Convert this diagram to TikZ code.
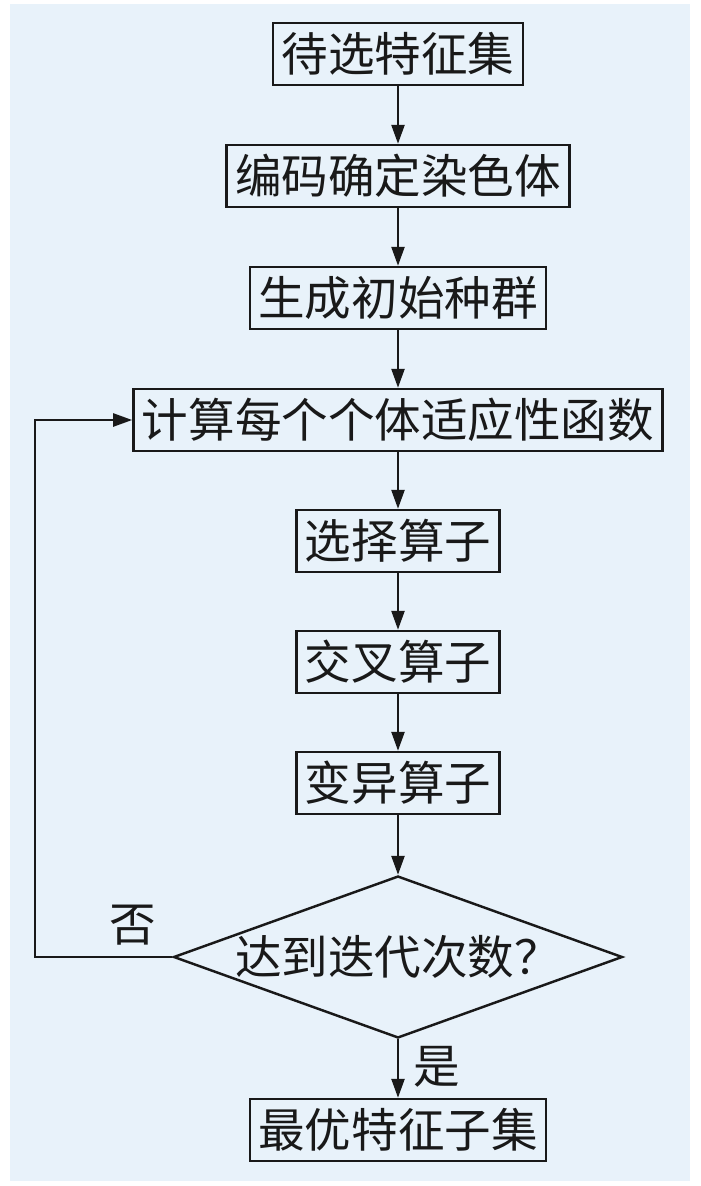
\documentclass[tikz,border=0pt]{standalone}
\usepackage{fontspec}
\newfontfamily\cjk{Noto Sans CJK SC}
\usepackage{tikz}
\usetikzlibrary{arrows.meta, shapes.geometric}
\definecolor{panel}{RGB}{232,242,250}
\definecolor{ink}{RGB}{25,25,25}
\begin{document}
\begin{tikzpicture}[x=0.02cm, y=-0.02cm,
        every node/.style={font=\cjk\fontsize{26.5}{30}\selectfont, text=ink},
        stepbox/.style={draw=ink, line width=1.4pt, minimum height=1.24cm, inner xsep=0.17cm, inner ysep=0pt},
        choice/.style={draw=ink, line width=1.4pt, diamond, aspect=2.77, minimum width=8.98cm, minimum height=3.24cm, inner sep=0pt},
        flow/.style={draw=ink, line width=1.4pt, -{Triangle[length=0.38cm, width=0.26cm]}}]
    \useasboundingbox (0,0) rectangle (700,1186);
    \fill[white] (0,0) rectangle (700,1186);
    \fill[panel] (10,4) rectangle (690,1181);
    \node[stepbox] (pool)   at (398,54)   {待选特征集};
    \node[stepbox] (encode) at (398,176)  {编码确定染色体};
    \node[stepbox] (init)   at (398,298)  {生成初始种群};
    \node[stepbox] (fit)    at (398,420)  {计算每个个体适应性函数};
    \node[stepbox] (sel)    at (398,541)  {选择算子};
    \node[stepbox] (cross)  at (398,662)  {交叉算子};
    \node[stepbox] (mut)    at (398,783)  {变异算子};
    \node[choice]  (done)   at (398,957)  {达到迭代次数？};
    \node[stepbox] (best)   at (398,1130) {最优特征子集};
    \node (no)  at (133,925)  {否};
    \node (yes) at (437,1067) {是};
    \coordinate (back) at (35,957);
    \foreach \a/\b in {pool/encode, encode/init, init/fit, fit/sel, sel/cross, cross/mut, mut/done, done/best}
        \draw[flow] (\a) -- (\b);
    \draw[flow] (done.west) -- (back) |- (fit.west);
\end{tikzpicture}
\end{document}
